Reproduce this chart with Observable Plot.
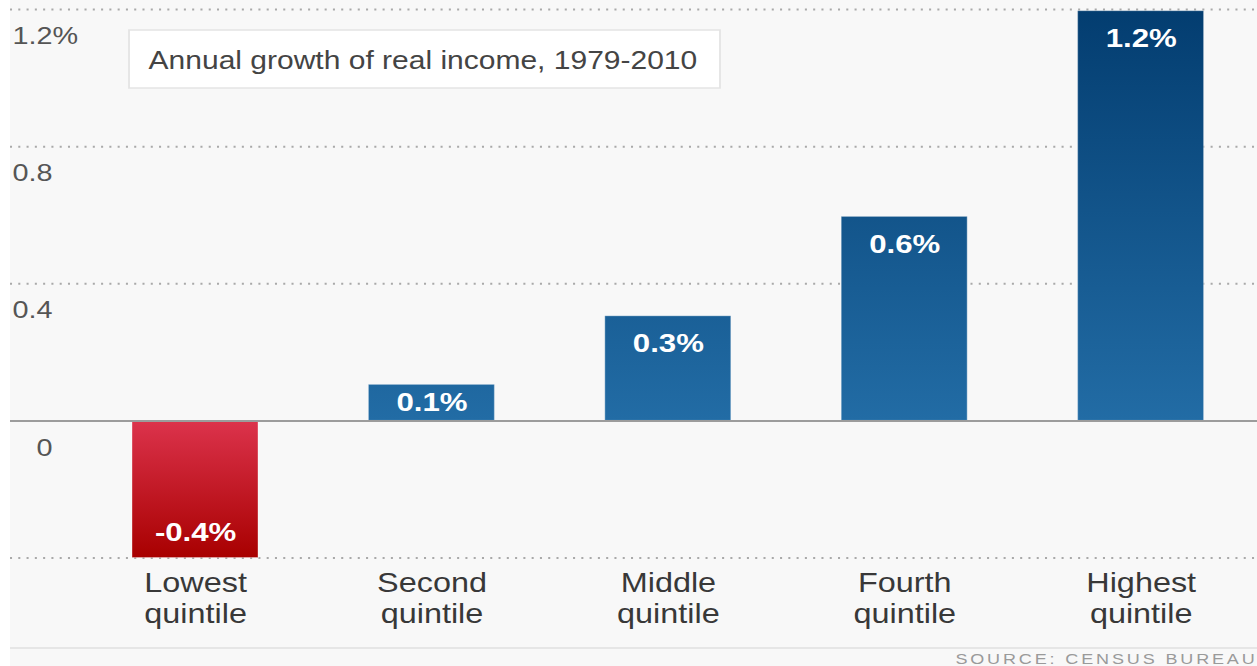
<!DOCTYPE html>
<html><head><meta charset="utf-8">
<script src="https://cdn.jsdelivr.net/npm/d3@7"></script>
<script src="https://cdn.jsdelivr.net/npm/@observablehq/plot@0.6"></script>
<style>
html,body{margin:0;padding:0;background:#fff;}
#chart svg{display:block;}
</style></head><body><div id="chart"></div>
<script>
const categories = ["Lowest quintile","Second quintile","Middle quintile","Fourth quintile","Highest quintile"];
const growth = [-0.4, 0.105, 0.305, 0.595, 1.195];
const valueLabels = ["-0.4%","0.1%","0.3%","0.6%","1.2%"];
const yTicks = [1.2, 0.8, 0.4, 0];
const yTickLabels = ["1.2","0.8","0.4","0"];
const gridValues = [1.2, 0.8, 0.4, -0.4];
const title = "Annual growth of real income, 1979-2010";
const source = "SOURCE: CENSUS BUREAU";

const W = 1257, H = 666, SX = 1.2, w = W / SX;
const data = categories.map((c, i) => ({c, v: growth[i], label: valueLabels[i]}));
const ticks = yTicks.map((t, i) => ({t, label: yTickLabels[i]}));
const font = '"Liberation Sans", Arial, Helvetica, sans-serif';

function defsAndDecor(index, scales) {
  const y = scales.y;
  const g = d3.create("svg:g");
  const defs = g.append("defs");
  const b = defs.append("linearGradient").attr("id", "gBlue").attr("gradientUnits", "userSpaceOnUse")
    .attr("x1", 0).attr("x2", 0).attr("y1", y(1.2)).attr("y2", y(0));
  b.append("stop").attr("offset", "0%").attr("stop-color", "#033d70");
  b.append("stop").attr("offset", "100%").attr("stop-color", "#226ca5");
  const r = defs.append("linearGradient").attr("id", "gRed").attr("gradientUnits", "userSpaceOnUse")
    .attr("x1", 0).attr("x2", 0).attr("y1", y(0)).attr("y2", y(-0.4));
  r.append("stop").attr("offset", "0%").attr("stop-color", "#dc334c");
  r.append("stop").attr("offset", "100%").attr("stop-color", "#a80000");
  // title box
  g.append("rect").attr("x", 129 / SX).attr("y", 30).attr("width", (720 - 129) / SX).attr("height", 58)
    .attr("fill", "#fff").attr("stroke", "#e4e4e4").attr("stroke-width", 1.5);
  // bottom separator
  g.append("line").attr("x1", 10 / SX).attr("x2", w).attr("y1", 648).attr("y2", 648)
    .attr("stroke", "#e6e6e6").attr("stroke-width", 2);
  return g.node();
}

const plot = Plot.plot({
  width: w, height: H,
  marginLeft: 10 / SX, marginRight: 0, marginTop: 9, marginBottom: H - 557.5,
  style: {fontFamily: font, background: "linear-gradient(to right, #fff 10px, #f8f8f8 10px)", overflow: "visible"},
  x: {domain: categories, range: [131 / SX, 1204 / SX], paddingInner: 0.468, paddingOuter: 0},
  y: {domain: [-0.4, 1.2], axis: null},
  marks: [
    defsAndDecor,
    Plot.ruleY(gridValues, {stroke: "#a9a9a9", strokeWidth: 2, strokeDasharray: "1.7,5.2"}),
    Plot.barY(data.filter(d => d.v >= 0), {x: "c", y: "v", fill: "url(#gBlue)", stroke: "#fff", strokeOpacity: 0.3, strokeWidth: 1}),
    Plot.barY(data.filter(d => d.v < 0), {x: "c", y: "v", fill: "url(#gRed)", stroke: "#fff", strokeOpacity: 0.3, strokeWidth: 1}),
    Plot.ruleY([0], {stroke: "#9c9c9c", strokeWidth: 2}),
    Plot.text(data, {x: "c", y: d => d.v < 0 ? d.v + 0.075 : Math.max(d.v - 0.08, d.v / 2), text: "label",
      fill: "#fff", fontWeight: "bold", fontSize: 26}),
    Plot.text(ticks, {y: "t", text: "label", frameAnchor: "left", textAnchor: "end", dx: 42 / SX, dy: 27, fontSize: 24, fill: "#555"}),
    Plot.text([yTicks[0]], {y: d => d, text: () => "%", frameAnchor: "left", textAnchor: "start", dx: 42 / SX, dy: 27, fontSize: 24, fill: "#555"}),
    Plot.text([title], {frameAnchor: "top-left", dx: (148 - 10) / SX, dy: 60 - 9, textAnchor: "start", lineAnchor: "middle", fontSize: 25, fill: "#444"}),
    Plot.text([source], {frameAnchor: "bottom-right", dx: 0, dy: 659 - 557.5, textAnchor: "end", lineAnchor: "middle", fontSize: 15, fill: "#9a9a9a"}),
    Plot.axisX({tickSize: 0, tickPadding: 12, fontSize: 27, lineHeight: 1.15, label: null, color: "#383838",
      tickFormat: d => d.replace(" ", "\n")})
  ]
});

d3.select(plot).selectAll("text").filter(function() { return this.textContent === source; })
  .attr("letter-spacing", "2.4px");
plot.setAttribute("width", W);
plot.setAttribute("height", H);
plot.setAttribute("preserveAspectRatio", "none");
plot.style.width = W + "px";
plot.style.height = H + "px";
plot.style.maxWidth = "none";
document.getElementById("chart").appendChild(plot);
</script>
</body></html>
